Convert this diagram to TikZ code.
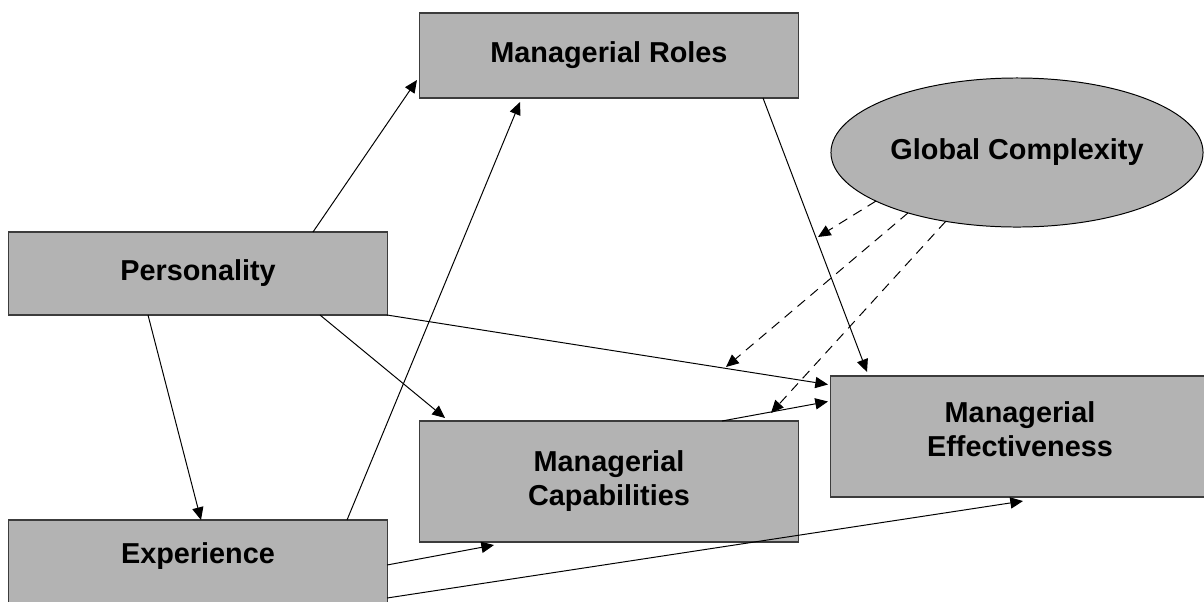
\documentclass[tikz,border=0pt]{standalone}
\usepackage{fontspec}
\setmainfont{Liberation Sans}
\usetikzlibrary{arrows.meta,shapes.geometric}
\definecolor{boxgray}{RGB}{179,179,179}
\definecolor{edgegray}{RGB}{60,60,60}
\begin{document}
\begin{tikzpicture}[x=0.025cm, y=-0.025cm,
    box/.style={draw=edgegray, fill=boxgray, line width=0.75pt, minimum width=9.45cm,
        inner sep=0pt, outer sep=0pt, align=center,
        font=\fontsize{20.5}{24.2}\selectfont\bfseries},
    link/.style={-{Triangle[length=9pt,width=8pt]}, line width=0.7pt},
    moderate/.style={link, dash pattern=on 7pt off 5pt}]
    \useasboundingbox (0,0) rectangle (1204,601);
    \node[box, minimum height=2.125cm] (roles) at (609,55.5) {Managerial Roles};
    \node[box, minimum height=2.075cm] (pers) at (198,273.5) {Personality};
    \node[box, minimum height=2.3cm, text depth=18.5pt] (exper) at (198,566) {Experience};
    \node[box, minimum height=3.025cm] (capab) at (609,481.5) {Managerial\\Capabilities};
    \node[box, minimum height=3.025cm, text depth=11pt] (effect) at (1020,436.5) {Managerial\\Effectiveness};
    \node[ellipse, draw, fill=boxgray, line width=0.7pt, minimum width=9.3cm, minimum height=3.725cm,
        inner sep=0pt, outer sep=0pt, font=\fontsize{20.5}{24.2}\selectfont\bfseries] (glob) at (1017,152.5) {Global Complexity};
    \coordinate (onRE) at (818,237);
    \coordinate (onPE) at (726,367);
    \coordinate (onCE) at (771,413);
    \draw[link] ([shift={(115,0)}]pers.north) -- ([shift={(-3,24.5)}]roles.west);
    \draw[link] ([shift={(149,0)}]exper.north) -- ([shift={(-89,4)}]roles.south);
    \draw[link] ([shift={(154,0)}]roles.south) -- ([shift={(-153,-4)}]effect.north);
    \draw[link] ([shift={(122,0)}]pers.south) -- ([shift={(-164,-3)}]capab.north);
    \draw[link] (pers.south east) -- ([shift={(-3,-52)}]effect.west);
    \draw[link] ([shift={(-50,0)}]pers.south) -- ([shift={(3,0)}]exper.north);
    \draw[link] ([shift={(0,-1)}]exper.east) -- ([shift={(-115,3)}]capab.south);
    \draw[link] ([shift={(0,32)}]exper.east) -- ([shift={(3,4)}]effect.south);
    \draw[link] ([shift={(113,0)}]capab.north) -- ([shift={(-3,-35)}]effect.west);
    \draw[moderate] (glob.199) -- (onRE);
    \draw[moderate] (glob.209.5) -- (onPE);
    \draw[moderate] (glob.224) -- (onCE);
\end{tikzpicture}
\end{document}
